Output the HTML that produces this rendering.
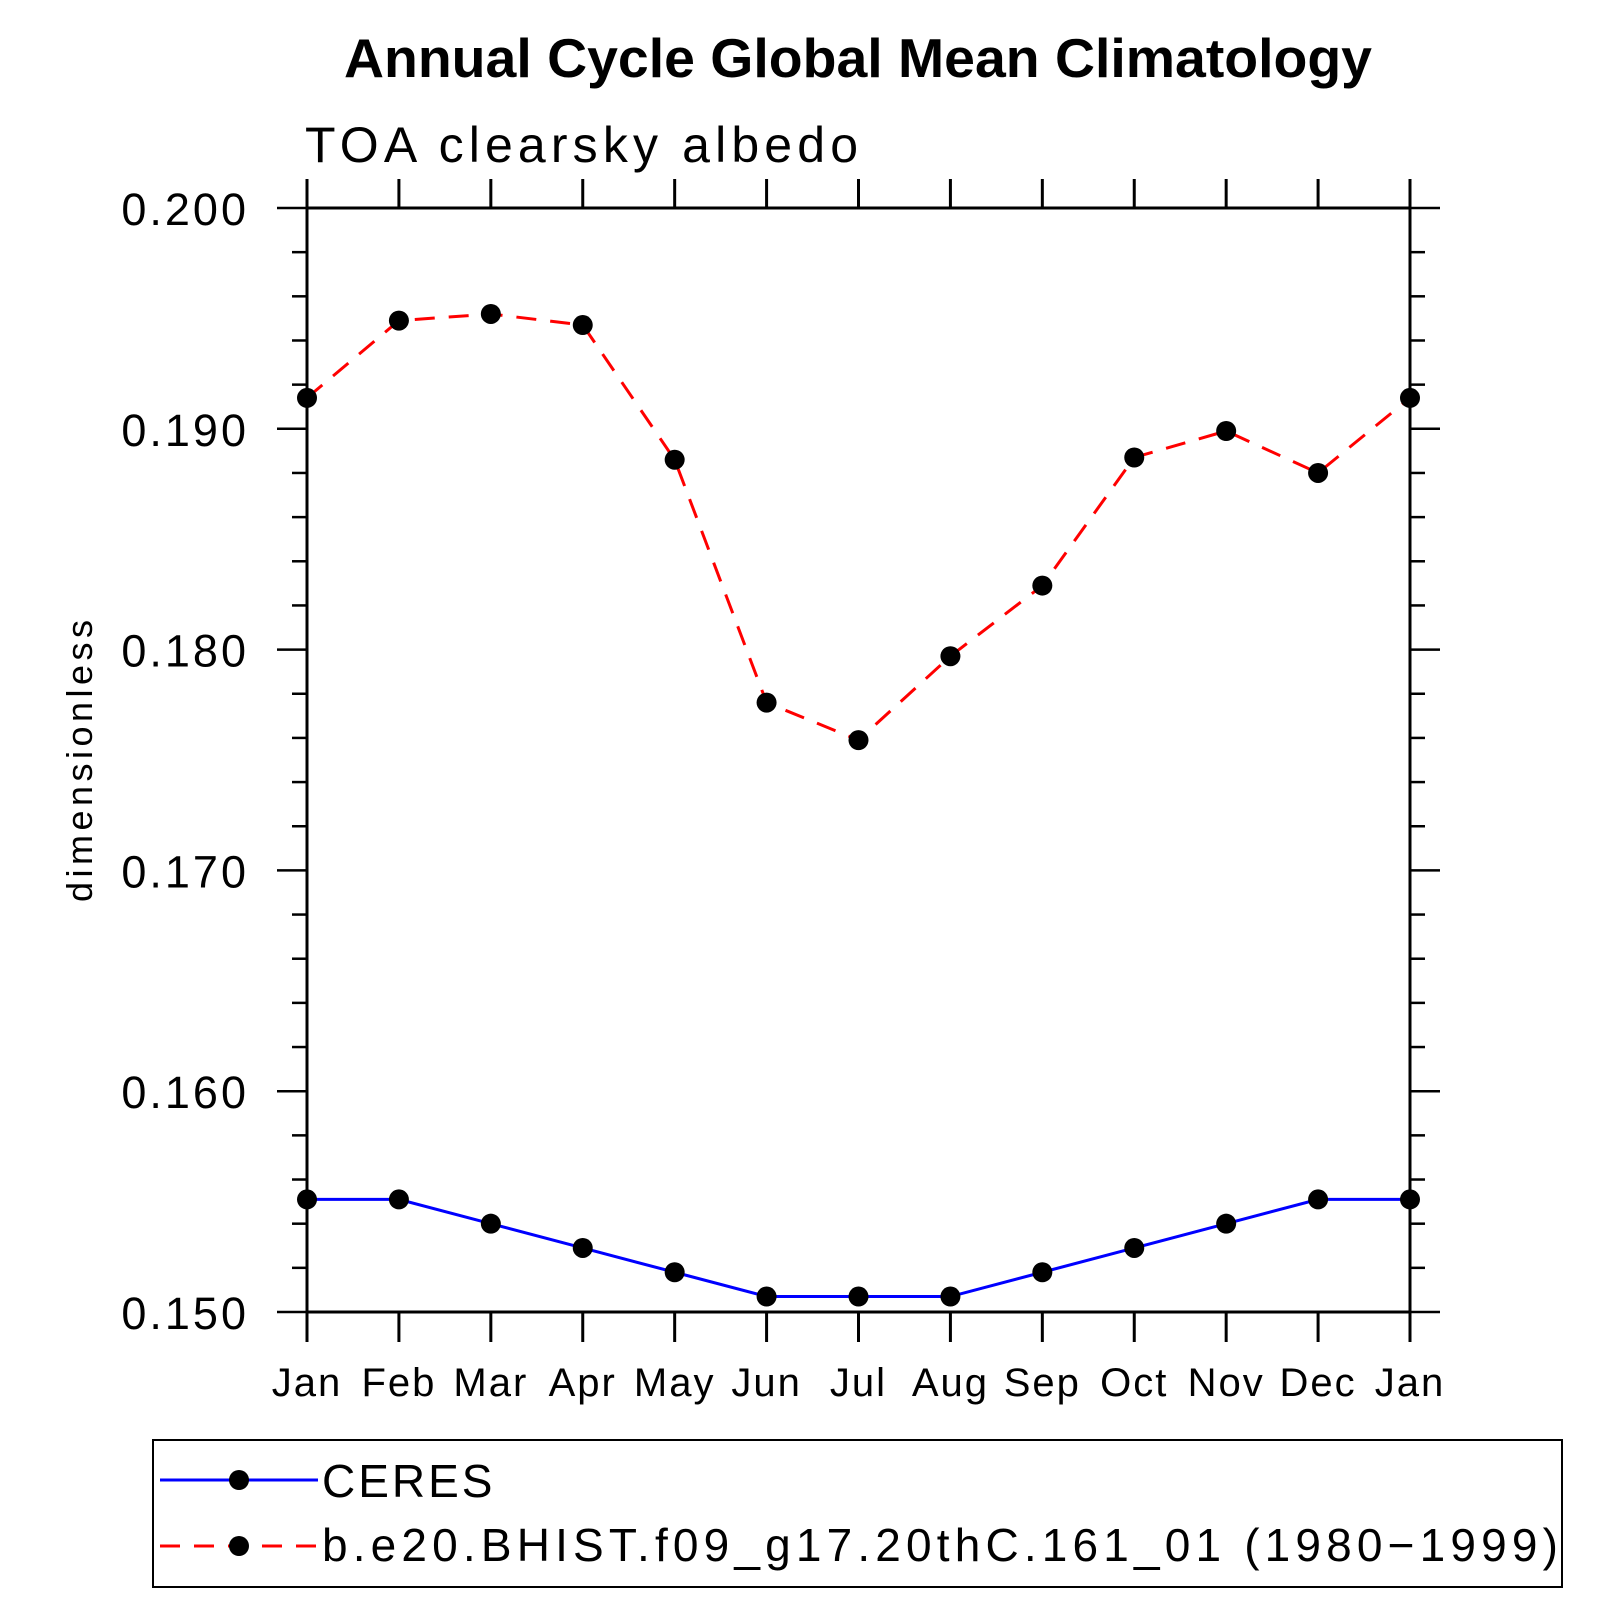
<!DOCTYPE html>
<html><head><meta charset="utf-8"><style>html,body{margin:0;padding:0;background:#fff}svg{display:block}text{font-family:"Liberation Sans",sans-serif}</style></head>
<body>
<svg id="chart" width="1624" height="1624" viewBox="0 0 1624 1624" xmlns="http://www.w3.org/2000/svg">
<text x="858" y="77" font-size="55" font-weight="bold" text-anchor="middle" textLength="1028" lengthAdjust="spacingAndGlyphs">Annual Cycle Global Mean Climatology</text>
<text x="305" y="162" font-size="50" textLength="553" lengthAdjust="spacing">TOA clearsky albedo</text>
<text transform="translate(92,761) rotate(-90)" font-size="36" text-anchor="middle" textLength="282" lengthAdjust="spacing">dimensionless</text>
<g id="axes"></g>
<g id="series"></g>
<rect x="153" y="1440" width="1409" height="147" fill="none" stroke="#000" stroke-width="2"/>
<g>
<line x1="160" y1="1480" x2="318" y2="1480" stroke="#0000ff" stroke-width="3"/>
<circle cx="239" cy="1480" r="10"/>
<text x="322" y="1497" font-size="46" letter-spacing="3">CERES</text>
</g>
<g>
<line x1="160" y1="1546" x2="318" y2="1546" stroke="#ff0000" stroke-width="3" stroke-dasharray="20,14"/>
<circle cx="239" cy="1546" r="10"/>
<text x="322" y="1561" font-size="46" textLength="1236" lengthAdjust="spacing">b.e20.BHIST.f09_g17.20thC.161_01 (1980−1999)</text>
</g>
</svg>
<script>
const months = ["Jan","Feb","Mar","Apr","May","Jun","Jul","Aug","Sep","Oct","Nov","Dec","Jan"];
const ceres = [0.1551,0.1551,0.1540,0.1529,0.1518,0.1507,0.1507,0.1507,0.1518,0.1529,0.1540,0.1551,0.1551];
const model = [0.1914,0.1949,0.1952,0.1947,0.1886,0.1776,0.1759,0.1797,0.1829,0.1887,0.1899,0.1880,0.1914];
const yTicks = ["0.150","0.160","0.170","0.180","0.190","0.200"];
const NS="http://www.w3.org/2000/svg";
const L=307,R=1410,T=208,B=1312,ymin=0.15,ymax=0.2;
const xs=i=>L+(R-L)*i/(months.length-1);
const ys=v=>B-(B-T)*(v-ymin)/(ymax-ymin);
function mk(tag,attrs,parent){const e=document.createElementNS(NS,tag);for(const k in attrs)e.setAttribute(k,attrs[k]);parent.appendChild(e);return e;}
const ax=document.getElementById('axes');
const frame=mk('rect',{x:L,y:T,width:R-L,height:B-T,fill:'none',stroke:'#000','stroke-width':3},ax);


months.forEach((m,i)=>{
  const x=xs(i);
  mk('line',{x1:x,y1:B,x2:x,y2:B+30,stroke:'#000','stroke-width':3},ax);
  mk('line',{x1:x,y1:T,x2:x,y2:T-29,stroke:'#000','stroke-width':3},ax);
  const t=mk('text',{x:x,y:1396,'font-size':40,'text-anchor':'middle','letter-spacing':2},ax);
  t.textContent=m;
  
  
});
for(let k=0;k<=25;k++){
  const v=ymin+k*0.002,y=ys(v),major=k%5===0,len=major?30:15;
  mk('line',{x1:L-len,y1:y,x2:L,y2:y,stroke:'#000','stroke-width':2.5},ax);
  mk('line',{x1:R,y1:y,x2:R+len,y2:y,stroke:'#000','stroke-width':2.5},ax);
}
yTicks.forEach(s=>{
  const t=mk('text',{x:249,y:ys(parseFloat(s))+17,'font-size':45,'text-anchor':'end','letter-spacing':3},ax);
  t.textContent=s;
  
  
});
const sg=document.getElementById('series');
function draw(vals,color,dash,name){
  const p=mk('polyline',{points:vals.map((v,i)=>xs(i)+','+ys(v)).join(' '),fill:'none',stroke:color,'stroke-width':3,'stroke-dasharray':dash},sg);
  
  
  vals.forEach((v,i)=>{
    const c=mk('circle',{cx:xs(i),cy:ys(v),r:10,fill:'#000'},sg);
    
    
  });
}
draw(ceres,'#0000ff','none','ceres');
draw(model,'#ff0000','20,14','model');
</script>
</body></html>
